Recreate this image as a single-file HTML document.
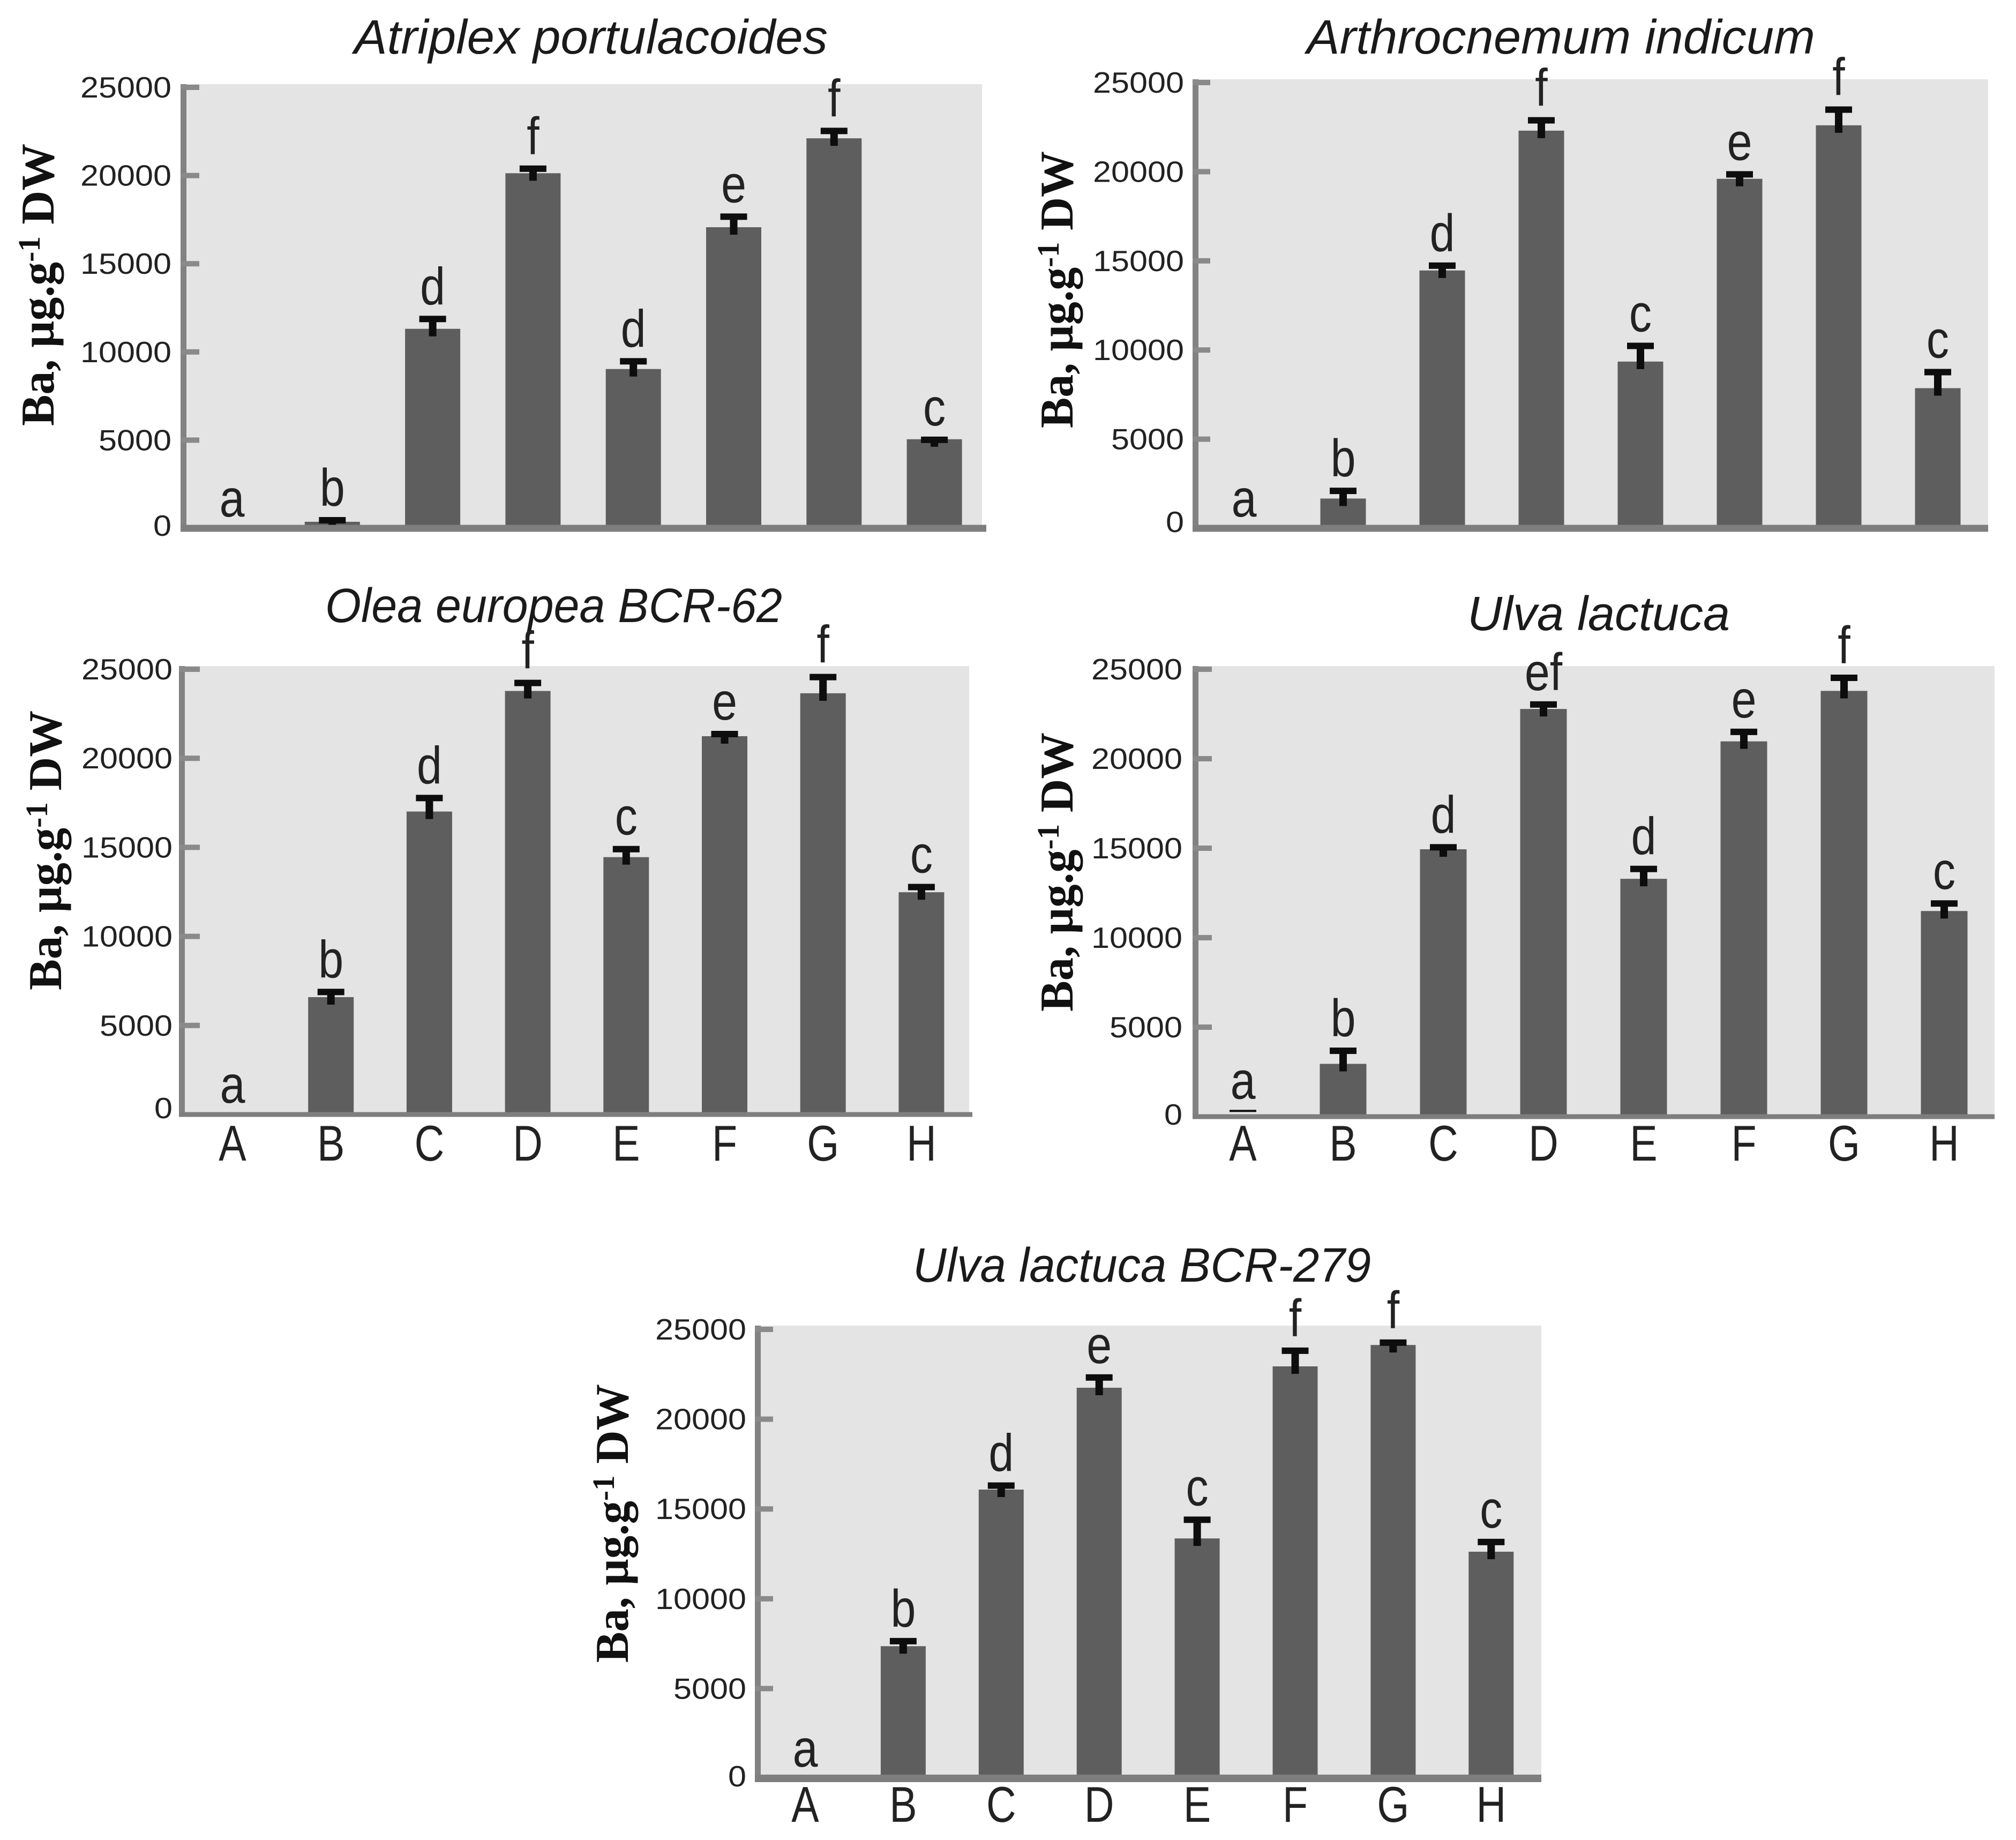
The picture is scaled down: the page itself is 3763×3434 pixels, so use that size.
<!DOCTYPE html>
<html lang="en">
<head>
<meta charset="utf-8">
<title>Ba content by species</title>
<style>
html,body{margin:0;padding:0;background:#fff;}
svg{display:block;}
.title{font-family:"Liberation Sans",sans-serif;font-style:italic;font-size:90px;fill:#1a1a1a;}
.ytitle{font-family:"Liberation Serif",serif;font-weight:bold;font-size:88px;fill:#111;}
.tick{font-family:"Liberation Sans",sans-serif;font-size:55px;fill:#222;text-anchor:end;}
.cat{font-family:"Liberation Sans",sans-serif;font-size:94px;fill:#222;text-anchor:middle;}
.sig{font-family:"Liberation Sans",sans-serif;font-size:98px;fill:#222;text-anchor:middle;}
</style>
</head>
<body>
<svg id="figure" xmlns="http://www.w3.org/2000/svg" width="3763" height="3434" viewBox="0 0 3763 3434">
  <rect x="0" y="0" width="3763" height="3434" fill="#ffffff"/>
  <g id="panel1">
    <text class="title" x="661" y="100" textLength="884" lengthAdjust="spacingAndGlyphs">Atriplex portulacoides</text>
    <text class="ytitle" transform="translate(100,795) rotate(-90)" textLength="527" lengthAdjust="spacingAndGlyphs">Ba, µg.g<tspan font-size="58" dy="-26">-1</tspan><tspan dy="26"> DW</tspan></text>
  </g>
  <g id="panel2">
    <text class="title" x="2439" y="100" textLength="949" lengthAdjust="spacingAndGlyphs">Arthrocnemum indicum</text>
    <text class="ytitle" transform="translate(2002,799) rotate(-90)" textLength="517" lengthAdjust="spacingAndGlyphs">Ba, µg.g<tspan font-size="58" dy="-26">-1</tspan><tspan dy="26"> DW</tspan></text>
  </g>
  <g id="panel3">
    <text class="title" x="607" y="1161" textLength="853" lengthAdjust="spacingAndGlyphs">Olea europea BCR-62</text>
    <text class="ytitle" transform="translate(114,1848) rotate(-90)" textLength="522" lengthAdjust="spacingAndGlyphs">Ba, µg.g<tspan font-size="58" dy="-26">-1</tspan><tspan dy="26"> DW</tspan></text>
  </g>
  <g id="panel4">
    <text class="title" x="2739" y="1176" textLength="490" lengthAdjust="spacingAndGlyphs">Ulva lactuca</text>
    <text class="ytitle" transform="translate(2002,1888) rotate(-90)" textLength="521" lengthAdjust="spacingAndGlyphs">Ba, µg.g<tspan font-size="58" dy="-26">-1</tspan><tspan dy="26"> DW</tspan></text>
  </g>
  <g id="panel5">
    <text class="title" x="1704" y="2392" textLength="855" lengthAdjust="spacingAndGlyphs">Ulva lactuca BCR-279</text>
    <text class="ytitle" transform="translate(1172,3103) rotate(-90)" textLength="520" lengthAdjust="spacingAndGlyphs">Ba, µg.g<tspan font-size="58" dy="-26">-1</tspan><tspan dy="26"> DW</tspan></text>
  </g>
</svg>
<script>
const categories = ['A','B','C','D','E','F','G','H'];
const tickValues = [0,5000,10000,15000,20000,25000];
const tickLabels = ['0','5000','10000','15000','20000','25000'];

const atriplexValues = [0,370,11310,20130,9030,17070,22110,5050];
const atriplexErrors = [0,240,710,410,590,750,570,120];
const atriplexLetters = ['a','b','d','f','d','e','f','c'];

const arthrocnemumValues = [0,1670,14460,22300,9350,19600,22600,7860];
const arthrocnemumErrors = [0,580,420,730,1030,400,1030,1050];
const arthrocnemumLetters = ['a','b','d','f','c','e','f','c'];

const oleaValues = [0,6590,17010,23780,14450,21240,23650,12480];
const oleaErrors = [0,440,910,600,600,270,1060,440];
const oleaLetters = ['a','b','d','f','c','e','f','c'];

const ulvaValues = [0,2950,14940,22780,13290,20970,23790,11490];
const ulvaErrors = [350,880,260,400,700,680,880,570];
const ulvaLetters = ['a','b','d','ef','d','e','f','c'];

const ulvaBcrValues = [0,7360,16080,21750,13360,22940,24130,12620];
const ulvaBcrErrors = [0,430,370,720,1190,1020,280,690];
const ulvaBcrLetters = ['a','b','d','e','c','f','f','c'];

const NS = 'http://www.w3.org/2000/svg';
function make(parent, tag, attrs, text) {
  const el = document.createElementNS(NS, tag);
  for (const k in attrs) el.setAttribute(k, attrs[k]);
  if (text !== undefined) el.textContent = text;
  parent.appendChild(el);
  return el;
}

function drawPanel(cfg, values, errors, letters) {
  const root = document.getElementById(cfg.id);
  const yScale = v => cfg.y0 - v * (cfg.y0 - cfg.y25) / 25000;
  const xScale = i => cfg.firstX + i * cfg.step;

  const bg = make(root, 'rect', {x: cfg.axisX, y: cfg.top, width: cfg.right - cfg.axisX, height: cfg.y0 - cfg.top, fill: '#e4e4e4'});
  
  

  categories.forEach((cat, i) => {
    const cx = xScale(i);
    const val = values[i];
    const err = errors[i];
    if (val > 0) {
      const bar = make(root, 'rect', {x: cx - cfg.barW / 2, y: yScale(val), width: cfg.barW, height: cfg.y0 - yScale(val), fill: '#5e5e5e'});
      
      
      const stem = make(root, 'rect', {x: cx - 7, y: yScale(val + err), width: 14, height: yScale(val) - yScale(val + err) + 14, fill: '#0d0d0d'});
      
      
    }
    if (err > 0) {
      const thick = val > 0 ? 12 : 4;
      const cap = make(root, 'rect', {x: cx - 25, y: yScale(val + err) - 1, width: 50, height: thick, fill: '#0d0d0d'});
      
      
    }
    const sig = make(root, 'text', {class: 'sig', transform: 'translate(' + cx + ',' + (yScale(val + err) - 22) + ') scale(0.86,1)'}, letters[i]);
    
    
    if (cfg.catY) {
      const lab = make(root, 'text', {class: 'cat', transform: 'translate(' + cx + ',' + cfg.catY + ') scale(0.82,1)'}, cat);
      
      
    }
  });

  const yAxis = make(root, 'rect', {x: cfg.axisX, y: cfg.top, width: 11, height: cfg.y0 - cfg.top + cfg.axisT / 2, fill: '#828282'});
  
  
  const xAxis = make(root, 'rect', {x: cfg.axisX, y: cfg.y0 - cfg.axisT / 2, width: cfg.axisEnd - cfg.axisX, height: cfg.axisT, fill: '#7e7e7e'});
  
  

  tickValues.forEach((t, i) => {
    const ty = yScale(t);
    if (t > 0) {
      const tick = make(root, 'rect', {x: cfg.axisX, y: ty - 5, width: cfg.tickEnd - cfg.axisX, height: 10, fill: '#8a8a8a'});
      
      
    }
    const s = tickLabels[i];
    const nudge = t === 0 ? cfg.zeroNudge : 0;
    const lab = make(root, 'text', {class: 'tick', x: cfg.labelRight, y: ty + 19 + nudge, textLength: 34 * s.length, lengthAdjust: 'spacingAndGlyphs'}, s);
    
    
  });
}

drawPanel({id:'panel1', axisX:337, right:1833, axisEnd:1841, top:157, y0:986, y25:163, axisT:13, tickEnd:372, labelRight:320, firstX:433, step:187.3, barW:103, catY:0, zeroNudge:-5},
  atriplexValues, atriplexErrors, atriplexLetters);
drawPanel({id:'panel2', axisX:2226, right:3711, axisEnd:3711, top:148, y0:986, y25:154, axisT:13, tickEnd:2259, labelRight:2210, firstX:2322, step:185, barW:85, catY:0, zeroNudge:-12},
  arthrocnemumValues, arthrocnemumErrors, arthrocnemumLetters);
drawPanel({id:'panel3', axisX:334, right:1809, axisEnd:1815, top:1243, y0:2080, y25:1249, axisT:9, tickEnd:373, labelRight:322, firstX:434, step:183.7, barW:85, catY:2166, zeroNudge:-12},
  oleaValues, oleaErrors, oleaLetters);
drawPanel({id:'panel4', axisX:2226, right:3723, axisEnd:3723, top:1243, y0:2084, y25:1249, axisT:9, tickEnd:2262, labelRight:2207, firstX:2320, step:187, barW:87, catY:2166, zeroNudge:-4},
  ulvaValues, ulvaErrors, ulvaLetters);
drawPanel({id:'panel5', axisX:1409, right:2877, axisEnd:2877, top:2474, y0:3319, y25:2481, axisT:14, tickEnd:1443, labelRight:1393, firstX:1503, step:182.9, barW:84, catY:3400, zeroNudge:-4},
  ulvaBcrValues, ulvaBcrErrors, ulvaBcrLetters);
</script>
</body>
</html>
